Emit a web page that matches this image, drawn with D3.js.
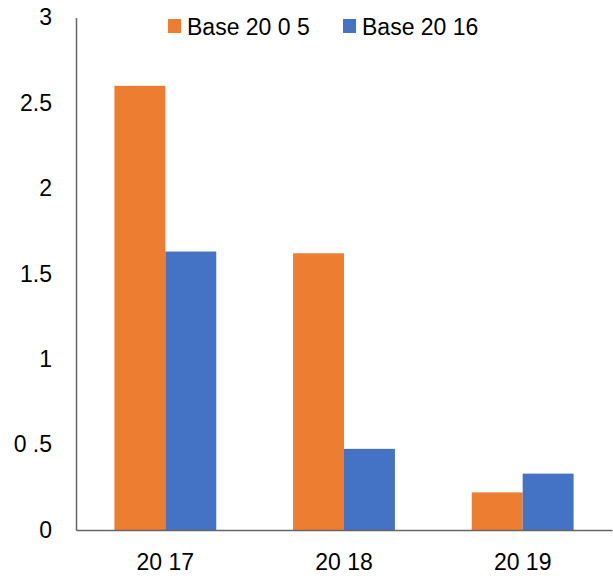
<!DOCTYPE html>
<html>
<head>
<meta charset="utf-8">
<script src="https://cdn.jsdelivr.net/npm/d3@7"></script>
<style>
  body { margin: 0; background: #fff; }
  text { font-family: "Liberation Sans", Arial, sans-serif; fill: #000; }
</style>
</head>
<body>
<svg width="613" height="576"></svg>
<script>
var categories = ["20 17", "20 18", "20 19"];
var seriesNames = ["Base 20 0 5", "Base 20 16"];
var base2005 = [2.6, 1.62, 0.22];
var base2016 = [1.63, 0.475, 0.33];
var yTicks = [0, 0.5, 1, 1.5, 2, 2.5, 3];
var yTickLabels = ["0", "0 .5", "1", "1.5", "2", "2.5", "3"];
var colors = ["#ED7D31", "#4472C4"];

var svg = d3.select("svg");
var plotLeft = 76, plotRight = 612, plotTop = 17.5, plotBottom = 530;

var x0 = d3.scaleBand()
    .domain(categories)
    .range([plotLeft, plotRight])
    .paddingInner(0.43)
    .paddingOuter(0.215);

var x1 = d3.scaleBand()
    .domain(seriesNames)
    .range([0, x0.bandwidth()]);

var y = d3.scaleLinear()
    .domain([0, 3])
    .range([plotBottom, plotTop]);

var rows = categories.map(function (c, i) {
    return { cat: c, values: [base2005[i], base2016[i]] };
});

// bars
svg.append("g")
    .selectAll("g")
    .data(rows)
    .enter().append("g")
    .attr("transform", function (d) {
        return "translate(" + x0(d.cat) + ",0)";
    })
    .selectAll("rect")
    .data(function (d) {
        return d.values.map(function (v, j) {
            return { name: seriesNames[j], value: v, idx: j };
        });
    })
    .enter().append("rect")
    .attr("x", function (d) { return x1(d.name); })
    .attr("width", x1.bandwidth())
    .attr("y", function (d) { return y(d.value); })
    .attr("height", function (d) { return plotBottom - y(d.value); })
    .attr("fill", function (d) { return colors[d.idx]; });

// y axis
var yAxis = svg.append("g")
    .attr("transform", "translate(" + plotLeft + ",0)")
    .call(d3.axisLeft(y).tickValues(yTicks).tickSize(0).tickPadding(24)
        .tickFormat(function (d, i) { return yTickLabels[i]; }));
yAxis.select(".domain").attr("stroke", "#666").attr("stroke-width", 1.5);
yAxis.selectAll("text")
    .style("font-size", "23px")
    .style("font-family", "Liberation Sans, Arial, sans-serif")
    .attr("fill", "#000");

// x axis
var xAxis = svg.append("g")
    .attr("transform", "translate(0," + plotBottom + ")")
    .call(d3.axisBottom(x0).tickSize(0).tickPadding(24).tickSizeOuter(0));
xAxis.select(".domain").attr("stroke", "#666").attr("stroke-width", 1.5);
xAxis.selectAll("text")
    .style("font-size", "23px")
    .style("font-family", "Liberation Sans, Arial, sans-serif")
    .attr("fill", "#000");

// legend
var legendX = [168, 343];
var legend = svg.append("g")
    .selectAll("g")
    .data(seriesNames)
    .enter().append("g")
    .attr("transform", function (d, i) {
        return "translate(" + legendX[i] + ",19)";
    });
legend.append("rect")
    .attr("width", 13)
    .attr("height", 14)
    .attr("fill", function (d, i) { return colors[i]; });
legend.append("text")
    .attr("x", 19)
    .attr("y", 16)
    .style("font-size", "23px")
    .text(function (d) { return d; });
</script>
</body>
</html>
